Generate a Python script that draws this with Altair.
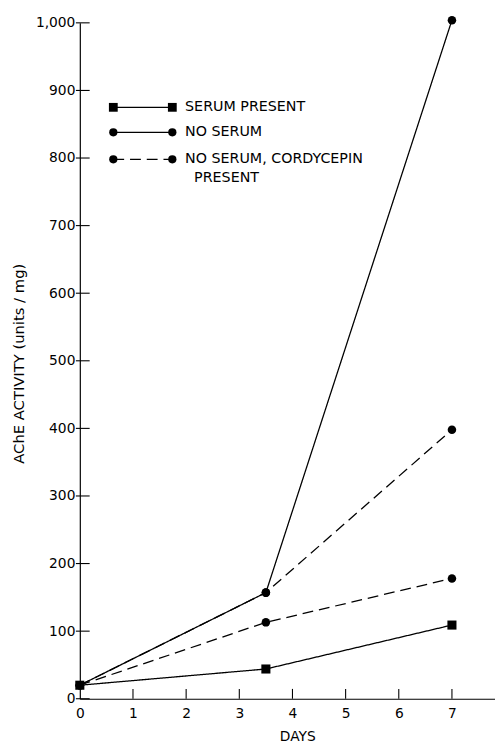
import altair as alt
import pandas as pd

# ---- data ----
days = [0, 3.5, 7]
serum_present = [20, 44, 109]
no_serum = [20, 157, 1004]
cordycepin_a = [20, 157, 398]
cordycepin_b = [20, 113, 178]

x_ticks = [0, 1, 2, 3, 4, 5, 6, 7]
y_ticks = [0, 100, 200, 300, 400, 500, 600, 700, 800, 900, 1000]

legend_labels = ["SERUM PRESENT", "NO SERUM", "NO SERUM, CORDYCEPIN"]
legend_second_line = "PRESENT"

FONT = "DejaVu Sans"
W, H = 422, 687
X_DOMAIN = [0, 7.81]
Y_DOMAIN = [0, 1000]

xs = alt.Scale(domain=X_DOMAIN, nice=False, zero=False)
ys = alt.Scale(domain=Y_DOMAIN, nice=False)

series = [
    ("SERUM PRESENT", serum_present, "square", [1, 0], 85),
    ("NO SERUM", no_serum, "circle", [1, 0], 75),
    ("CORDYCEPIN A", cordycepin_a, "circle", [11, 6], 75),
    ("CORDYCEPIN B", cordycepin_b, "circle", [11, 6], 75),
]

layers = []

# axes (base layer)
base_df = pd.DataFrame({"day": [0], "value": [0]})
axes_layer = alt.Chart(base_df).mark_point(opacity=0).encode(
    x=alt.X("day:Q", scale=xs,
            axis=alt.Axis(values=x_ticks, ticks=False, grid=False, title="DAYS",
                          format=".0f",
                          labelFontSize=14, labelPadding=8, labelFlush=False,
                          labelFont=FONT, titleFont=FONT, titleFontSize=14,
                          titleFontWeight="normal", titleX=221, titleY=38,
                          titleBaseline="middle", domainColor="black",
                          domainWidth=1.2, labelColor="black", titleColor="black")),
    y=alt.Y("value:Q", scale=ys,
            axis=alt.Axis(values=y_ticks, ticks=False, grid=False,
                          title="AChE ACTIVITY (units / mg)", format=",.0f",
                          labelFontSize=14, labelPadding=5, labelFlush=False,
                          labelFont=FONT, titleFont=FONT, titleFontSize=15,
                          titleFontWeight="normal", titleX=-62, titleY=346,
                          titleBaseline="middle", domainColor="black",
                          domainWidth=1.2, labelColor="black", titleColor="black")),
)
layers.append(axes_layer)

# inward ticks
yt = pd.DataFrame({"value": y_ticks})
layers.append(alt.Chart(yt).mark_rule(color="black", strokeWidth=1.1).encode(
    y=alt.Y("value:Q", scale=ys), x=alt.value(-4), x2=alt.value(10)))
xt = pd.DataFrame({"day": x_ticks[1:]})
layers.append(alt.Chart(xt).mark_rule(color="black", strokeWidth=1.1).encode(
    x=alt.X("day:Q", scale=xs), y=alt.value(H), y2=alt.value(H - 10)))

for name, vals, shape, dash, size in series:
    df = pd.DataFrame({"day": days, "value": vals})
    layers.append(alt.Chart(df).mark_line(color="black", strokeWidth=1.3,
                                          strokeDash=dash, clip=False).encode(
        x=alt.X("day:Q", scale=xs), y=alt.Y("value:Q", scale=ys)))
    layers.append(alt.Chart(df).mark_point(color="black", filled=True, opacity=1,
                                           shape=shape, size=size, clip=False).encode(
        x=alt.X("day:Q", scale=xs), y=alt.Y("value:Q", scale=ys)))

# manual legend (positions in data units)
leg_x1, leg_x2, leg_tx = 0.63, 1.74, 1.98
leg_y = [875, 838, 798]
leg_shapes = ["square", "circle", "circle"]
leg_dash = [[1, 0], [1, 0], [11, 6]]
leg_sizes = [80, 70, 70]
for lab, yv, sh, da, sz in zip(legend_labels, leg_y, leg_shapes, leg_dash, leg_sizes):
    ld = pd.DataFrame({"day": [leg_x1, leg_x2], "value": [yv, yv]})
    layers.append(alt.Chart(ld).mark_line(color="black", strokeWidth=1.3,
                                          strokeDash=da).encode(
        x=alt.X("day:Q", scale=xs), y=alt.Y("value:Q", scale=ys)))
    layers.append(alt.Chart(ld).mark_point(color="black", filled=True, opacity=1,
                                           shape=sh, size=sz).encode(
        x=alt.X("day:Q", scale=xs), y=alt.Y("value:Q", scale=ys)))
    td = pd.DataFrame({"day": [leg_tx], "value": [yv], "t": [lab]})
    layers.append(alt.Chart(td).mark_text(align="left", baseline="middle",
                                          font=FONT, fontSize=14.5, color="black").encode(
        x=alt.X("day:Q", scale=xs), y=alt.Y("value:Q", scale=ys), text="t:N"))

td2 = pd.DataFrame({"day": [2.15], "value": [770], "t": [legend_second_line]})
layers.append(alt.Chart(td2).mark_text(align="left", baseline="middle",
                                       font=FONT, fontSize=14.5, color="black").encode(
    x=alt.X("day:Q", scale=xs), y=alt.Y("value:Q", scale=ys), text="t:N"))

chart = alt.layer(*layers).properties(
    width=W, height=H,
    autosize=alt.AutoSizeParams(type="none"),
    padding={"left": 73, "top": 9, "right": 0, "bottom": 45},
    background="white",
).configure_view(stroke=None)

chart.save("out.html", embed_options={"renderer": "svg", "actions": False})
